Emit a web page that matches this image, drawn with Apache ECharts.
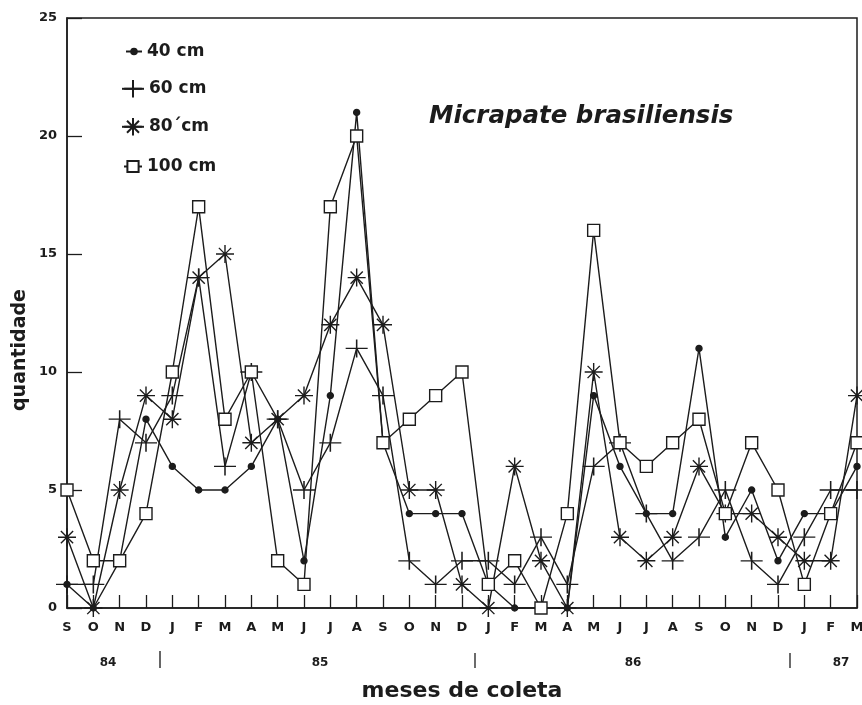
<!DOCTYPE html>
<html>
<head>
<meta charset="utf-8">
<script src="https://cdn.jsdelivr.net/npm/echarts@6/dist/echarts.min.js"></script>
<style>
    html, body { margin: 0; padding: 0; background: #fff; }
    #main { width: 862px; height: 705px; }
</style>
</head>
<body>
<div id="main"></div>
<script>
    // meses de coleta, set/84 .. mar/87
    const months = ['S', 'O', 'N', 'D', 'J', 'F', 'M', 'A', 'M', 'J', 'J', 'A', 'S', 'O', 'N', 'D',
        'J', 'F', 'M', 'A', 'M', 'J', 'J', 'A', 'S', 'O', 'N', 'D', 'J', 'F', 'M'];
    const years = ['84', '85', '86', '87'];
    const yTicks = [0, 5, 10, 15, 20, 25];

    const cm40 = [1, 0, 2, 8, 6, 5, 5, 6, 8, 2, 9, 21, 7, 4, 4, 4, 1, 0, 0, 0, 9, 6, 4, 4, 11, 3, 5, 2, 4, 4, 6];
    const cm60 = [1, 1, 8, 7, 9, 14, 6, 10, 8, 5, 7, 11, 9, 2, 1, 2, 2, 1, 3, 1, 6, 7, 4, 2, 3, 5, 2, 1, 3, 5, 5];
    const cm80 = [3, 0, 5, 9, 8, 14, 15, 7, 8, 9, 12, 14, 12, 5, 5, 1, 0, 6, 2, 0, 10, 3, 2, 3, 6, 4, 4, 3, 2, 2, 9];
    const cm100 = [5, 2, 2, 4, 10, 17, 8, 10, 2, 1, 17, 20, 7, 8, 9, 10, 1, 2, 0, 4, 16, 7, 6, 7, 8, 4, 7, 5, 1, 4, 7];

    const ink = '#1c1c1c';
    const font = '"DejaVu Sans", sans-serif';
    const plus = 'path://M5,0 L5,10 M0,5 L10,5';
    const star = 'path://M5,0 L5,10 M0,5 L10,5 M1.6,1.6 L8.4,8.4 M8.4,1.6 L1.6,8.4';

    let chart = echarts.init(document.getElementById('main'));

    function lineSeries(name, data, symbol, size, fill) {
        return {
            name: name,
            type: 'line',
            data: data,
            symbol: symbol,
            symbolSize: size,
            showAllSymbol: true,
            lineStyle: { color: ink, width: 1.4 },
            itemStyle: { color: fill, borderColor: ink, borderWidth: 1.4 },
            emphasis: { disabled: true },
            z: 3
        };
    }

    function legendRow(name, left, top, w, h) {
        return {
            data: [name],
            left: left, top: top,
            itemWidth: w, itemHeight: h,
            selectedMode: false,
            textStyle: { fontFamily: font, fontSize: 17, fontWeight: 'bold', color: ink }
        };
    }

    let option = {
        animation: false,
        backgroundColor: '#fff',
        grid: {
            left: 67, right: 5, top: 18, bottom: 97,
            outerBoundsMode: 'none',
            show: true, borderColor: ink, borderWidth: 1.5
        },
        title: {
            text: 'Micrapate brasiliensis',
            left: 424, top: 99,
            textStyle: { fontFamily: font, fontSize: 24.5, fontWeight: 'bold', fontStyle: 'italic', color: ink }
        },
        legend: [
            legendRow('40 cm', 120, 38, 16, 7),
            legendRow('60 cm', 116, 74, 22, 22),
            legendRow('80´cm', 116, 112, 22, 22),
            legendRow('100 cm', 118, 153, 18, 14)
        ],
        xAxis: {
            type: 'category',
            boundaryGap: false,
            data: months.map((m, i) => m + i),
            name: 'meses de coleta',
            nameLocation: 'middle',
            nameGap: 72,
            nameTextStyle: { fontFamily: font, fontSize: 22, fontWeight: 'bold', color: ink },
            axisLine: { lineStyle: { color: ink, width: 1.5 } },
            axisTick: { inside: true, length: 13, interval: 0, lineStyle: { color: ink, width: 1.3 } },
            axisLabel: {
                interval: 0, margin: 13,
                formatter: (v, i) => months[i],
                fontFamily: font, fontSize: 13, fontWeight: 'bold', color: ink
            },
            splitLine: { show: false }
        },
        yAxis: {
            type: 'value',
            min: yTicks[0], max: yTicks[yTicks.length - 1], interval: 5,
            axisLine: { show: true, lineStyle: { color: ink, width: 1.5 } },
            axisTick: { show: true, inside: true, length: 15, lineStyle: { color: ink, width: 1.3 } },
            axisLabel: { margin: 10, fontFamily: font, fontSize: 13, fontWeight: 'bold', color: ink },
            splitLine: { show: false }
        },
        graphic: [
            {
                type: 'text', x: 20, y: 350, rotation: Math.PI / 2,
                style: { text: 'quantidade', font: 'bold 19px ' + font, fill: ink, align: 'center', verticalAlign: 'middle' }
            },
            { type: 'text', x: 108, y: 663, style: { text: years[0], font: 'bold 12px ' + font, fill: ink, align: 'center', verticalAlign: 'middle' } },
            { type: 'text', x: 320, y: 663, style: { text: years[1], font: 'bold 12px ' + font, fill: ink, align: 'center', verticalAlign: 'middle' } },
            { type: 'text', x: 633, y: 663, style: { text: years[2], font: 'bold 12px ' + font, fill: ink, align: 'center', verticalAlign: 'middle' } },
            { type: 'text', x: 841, y: 663, style: { text: years[3], font: 'bold 12px ' + font, fill: ink, align: 'center', verticalAlign: 'middle' } },
            { type: 'line', shape: { x1: 160, y1: 651, x2: 160, y2: 668 }, style: { stroke: '#666', lineWidth: 2 } },
            { type: 'line', shape: { x1: 475, y1: 653, x2: 475, y2: 668 }, style: { stroke: ink, lineWidth: 1.3 } },
            { type: 'line', shape: { x1: 790, y1: 653, x2: 790, y2: 668 }, style: { stroke: ink, lineWidth: 1.3 } }
        ],
        series: [
            lineSeries('40 cm', cm40, 'circle', 6, ink),
            lineSeries('60 cm', cm60, plus, [22, 18], ink),
            lineSeries('80´cm', cm80, star, 18, ink),
            lineSeries('100 cm', cm100, 'rect', 12, '#fff')
        ]
    };
    chart.setOption(option);
    window.addEventListener('resize', function () {
        chart.resize();
    });
</script>
</body>
</html>
